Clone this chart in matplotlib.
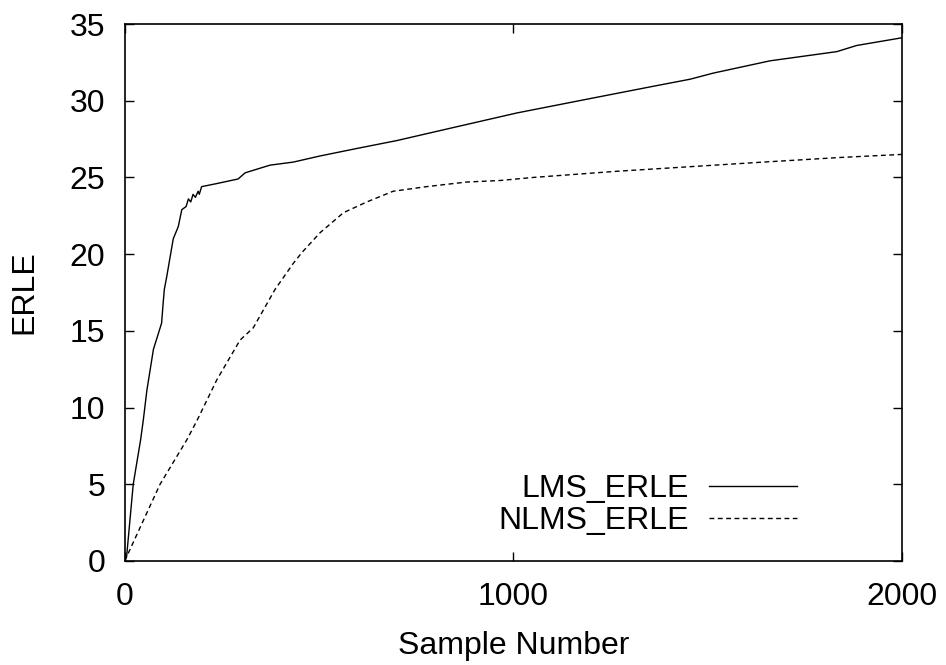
import matplotlib
matplotlib.use("Agg")
import matplotlib.pyplot as plt

plt.rcParams['font.family'] = ['Liberation Sans', 'DejaVu Sans']

# ERLE curves (sample number, dB)
lms_x = [0, 5, 22, 41, 48, 57, 74, 95, 99, 102, 108, 125, 138, 147, 158, 164, 170,
         176, 182, 189, 192, 198, 237, 292, 310, 374, 434, 503, 600, 700, 837,
         1009, 1180, 1352, 1455, 1515, 1661, 1833, 1884, 2000]
lms_y = [0, 0.3, 5.0, 7.9, 9.2, 11.1, 13.8, 15.5, 16.8, 17.7, 18.5, 21.0, 21.8, 22.9,
         23.1, 23.6, 23.4, 23.9, 23.7, 24.1, 23.9, 24.4, 24.6, 24.9, 25.3, 25.8, 26.0,
         26.4, 26.9, 27.4, 28.2, 29.2, 30.05, 30.9, 31.4, 31.8, 32.6, 33.2, 33.6, 34.1]

nlms_x = [0, 91, 160, 187, 237, 297, 331, 387, 434, 456, 503, 563, 623, 691, 777,
          880, 966, 1052, 1266, 1455, 1644, 1841, 2000]
nlms_y = [0, 5.0, 7.9, 9.2, 11.8, 14.4, 15.2, 17.7, 19.4, 20.1, 21.4, 22.7, 23.4,
          24.1, 24.4, 24.7, 24.8, 25.0, 25.4, 25.7, 26.0, 26.3, 26.5]

fig = plt.figure(figsize=(9.46, 6.65), dpi=100)
ax = fig.add_axes([0.1318, 0.1564, 0.8214, 0.8075])

ax.plot(lms_x, lms_y, color='black', lw=1.0, label='LMS_ERLE')
ax.plot(nlms_x, nlms_y, color='black', lw=1.0, dashes=(3.5, 2.5), label='NLMS_ERLE')

ax.set_xlim(0, 2000)
ax.set_ylim(0, 35)
ax.set_xticks([0, 1000, 2000])
ax.set_yticks(range(0, 36, 5))
ax.tick_params(direction='in', length=6.5, width=1.0, labelsize=23,
               top=True, right=True)
ax.tick_params(axis='x', pad=15)
ax.tick_params(axis='y', pad=14)
for s in ax.spines.values():
    s.set_linewidth(1.2)

ax.set_xlabel('Sample Number', fontsize=23, labelpad=14)
ax.set_ylabel('ERLE', fontsize=23, labelpad=22)

ax.legend(loc='lower right', bbox_to_anchor=(0.865, 0.046), frameon=False,
          markerfirst=False, fontsize=23, handlelength=2.75, handletextpad=0.62,
          borderpad=0, borderaxespad=0, labelspacing=0.08)

fig.savefig('out.png', dpi=100)
